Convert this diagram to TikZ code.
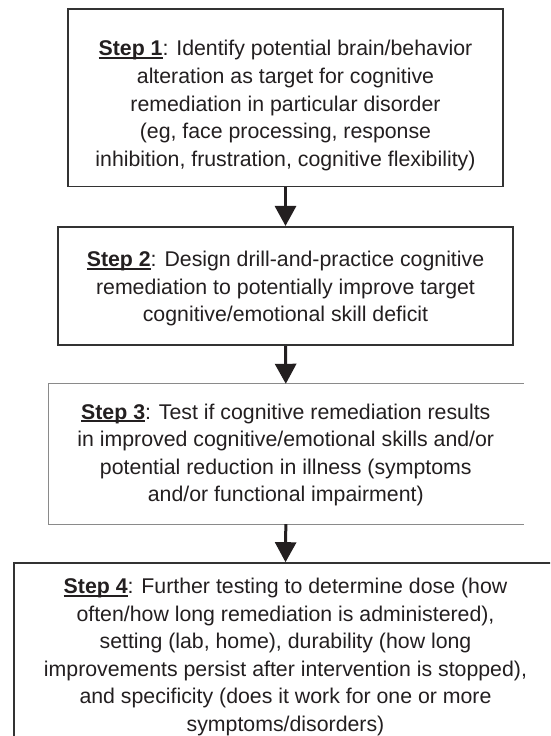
\documentclass[tikz,border=0pt]{standalone}
\usepackage{fontspec}
\setmainfont{Liberation Sans}
\usetikzlibrary{arrows.meta}
\definecolor{inkc}{HTML}{231F20}
\definecolor{boxc}{HTML}{333333}
\definecolor{lightc}{HTML}{8A8A8A}
\newcommand\stepul[1]{\setbox0\hbox{\textbf{#1}}\rlap{\color{inkc}\rule[-3.2pt]{\wd0}{1.9pt}}\box0}
\begin{document}
\begin{tikzpicture}[x=1pt,y=-1pt,
  stepbox/.style={draw=boxc,line width=1.6pt,inner sep=0pt},
  steptext/.style={inner sep=0pt,align=center,text=inkc,
    font=\fontsize{21.3}{27.6}\selectfont},
  flow/.style={draw=inkc,line width=3pt,-{Triangle[length=20pt,width=21pt]}}]
\useasboundingbox (0,0) rectangle (550,736);
\clip (0,0) rectangle (550,736);
\fill[white] (0,0) rectangle (550,736);
% boxes
\node[stepbox,minimum width=435.5pt,minimum height=177.7pt] (s1) at (285.5,97.8) {};
\node[stepbox,minimum width=454.5pt,minimum height=118.5pt] (s2) at (285.5,286) {};
\node[inner sep=0pt,minimum width=475pt,minimum height=140pt] (s3) at (285.8,454) {};
\draw[lightc,line width=1.2pt] (s3.north east) -- (s3.north west) -- (s3.south west) -- (s3.south east);
\node[stepbox,minimum width=543pt,minimum height=182pt] (s4) at (285.5,654) {};
% texts
\node[steptext] (t1) at (285.5,105.5)
  {\stepul{Step 1}: Identify potential brain/behavior\\
   alteration as target for cognitive\\
   remediation in particular disorder\\
   (eg, face processing, response\\
   inhibition, frustration, cognitive flexibility)};
\node[steptext] (t2) at (285.5,288.5)
  {\stepul{Step 2}: Design drill-and-practice cognitive\\
   remediation to potentially improve target\\
   cognitive/emotional skill deficit};
\node[steptext] (t3) at (285.8,455)
  {\stepul{Step 3}: Test if cognitive remediation results\\
   in improved cognitive/emotional skills and/or\\
   potential reduction in illness (symptoms\\
   and/or functional impairment)};
\node[steptext] (t4) at (285.5,657)
  {\stepul{Step 4}: Further testing to determine dose (how\\
   often/how long remediation is administered),\\
   setting (lab, home), durability (how long\\
   improvements persist after intervention is stopped),\\
   and specificity (does it work for one or more\\
   symptoms/disorders)};
% connectors
\draw[flow] (s1.south) -- (s2.north);
\draw[flow] (s2.south) -- (s3.north);
\draw[flow] (s3.south) -- (s4.north);
\end{tikzpicture}
\end{document}
